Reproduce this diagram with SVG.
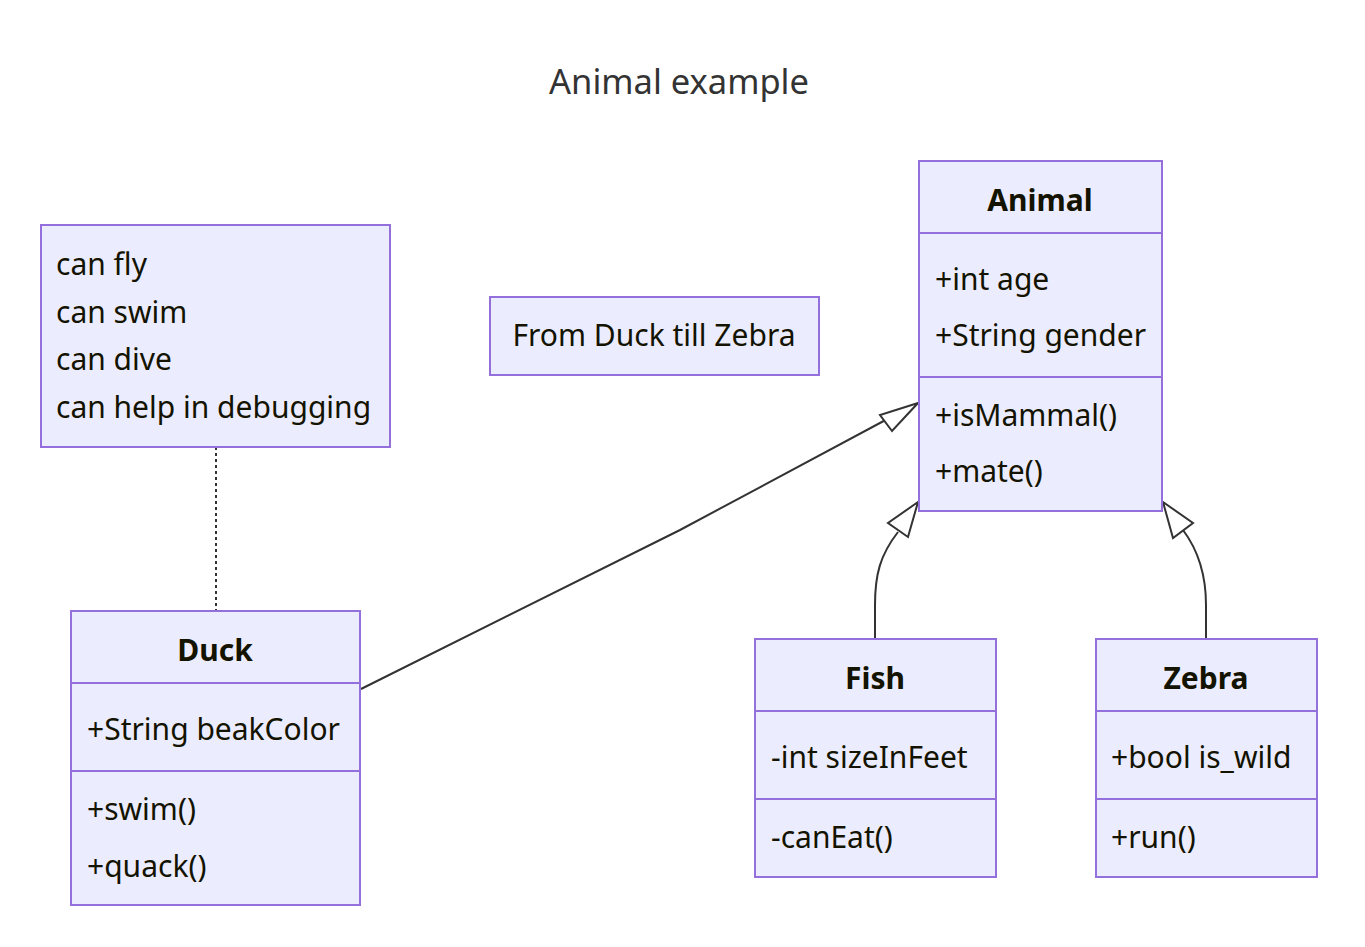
<svg xmlns="http://www.w3.org/2000/svg" width="1365" height="947" viewBox="0 0 1365 947">
<defs>
<style>
.box{fill:#ECECFF;stroke:#9370DB;stroke-width:2}
.div{stroke:#9370DB;stroke-width:2}
.t{font-family:"Noto Sans","Open Sans",sans-serif;font-size:30px;fill:#131300}
.b{font-weight:bold;text-anchor:middle}
.title{font-family:"Noto Sans","Open Sans",sans-serif;font-size:34.5px;fill:#333;text-anchor:middle}
.edge{fill:none;stroke:#333;stroke-width:2}
.head{fill:#fff;stroke:#333;stroke-width:2}
</style>
</defs>
<rect width="1365" height="947" fill="#fff"/>
<text class="title" x="679" y="94">Animal example</text>
<g id="connectors">
<path class="edge" d="M216,447 L216,611" stroke-dasharray="3,3"/>
<path class="edge" d="M361,689 L680,530 L893,416"/>
<polygon class="head" points="918,403 880,415 892,431"/>
<path class="edge" d="M875,639 L875,605 C875,575 880,555 898,532"/>
<polygon class="head" points="918,502 888,523 908,537"/>
<path class="edge" d="M1206,639 L1206,605 C1206,575 1198,550 1183,530"/>
<polygon class="head" points="1163,502 1193,523 1173,538"/>
</g>
<g id="note1">
<rect class="box" x="41" y="225" width="349" height="222"/>
<text class="t" x="56" y="275">can fly</text>
<text class="t" x="56" y="323">can swim</text>
<text class="t" x="56" y="370">can dive</text>
<text class="t" x="56" y="418">can help in debugging</text>
</g>
<g id="note2">
<rect class="box" x="490" y="297" width="329" height="78"/>
<text class="t" x="654" y="346" text-anchor="middle">From Duck till Zebra</text>
</g>
<g id="Animal">
<rect class="box" x="919" y="161" width="243" height="350"/>
<line class="div" x1="919" y1="233" x2="1162" y2="233"/>
<line class="div" x1="919" y1="377" x2="1162" y2="377"/>
<text class="t b" x="1040" y="211">Animal</text>
<text class="t" x="935" y="290">+int age</text>
<text class="t" x="935" y="346">+String gender</text>
<text class="t" x="935" y="426">+isMammal()</text>
<text class="t" x="935" y="482">+mate()</text>
</g>
<g id="Duck">
<rect class="box" x="71" y="611" width="289" height="294"/>
<line class="div" x1="71" y1="683" x2="360" y2="683"/>
<line class="div" x1="71" y1="771" x2="360" y2="771"/>
<text class="t b" x="215" y="661">Duck</text>
<text class="t" x="87" y="740">+String beakColor</text>
<text class="t" x="87" y="820">+swim()</text>
<text class="t" x="87" y="877">+quack()</text>
</g>
<g id="Fish">
<rect class="box" x="755" y="639" width="241" height="238"/>
<line class="div" x1="755" y1="711" x2="996" y2="711"/>
<line class="div" x1="755" y1="799" x2="996" y2="799"/>
<text class="t b" x="875" y="689">Fish</text>
<text class="t" x="771" y="768">-int sizeInFeet</text>
<text class="t" x="771" y="848">-canEat()</text>
</g>
<g id="Zebra">
<rect class="box" x="1096" y="639" width="221" height="238"/>
<line class="div" x1="1096" y1="711" x2="1317" y2="711"/>
<line class="div" x1="1096" y1="799" x2="1317" y2="799"/>
<text class="t b" x="1206" y="689">Zebra</text>
<text class="t" x="1111" y="768">+bool is_wild</text>
<text class="t" x="1111" y="848">+run()</text>
</g>
</svg>
